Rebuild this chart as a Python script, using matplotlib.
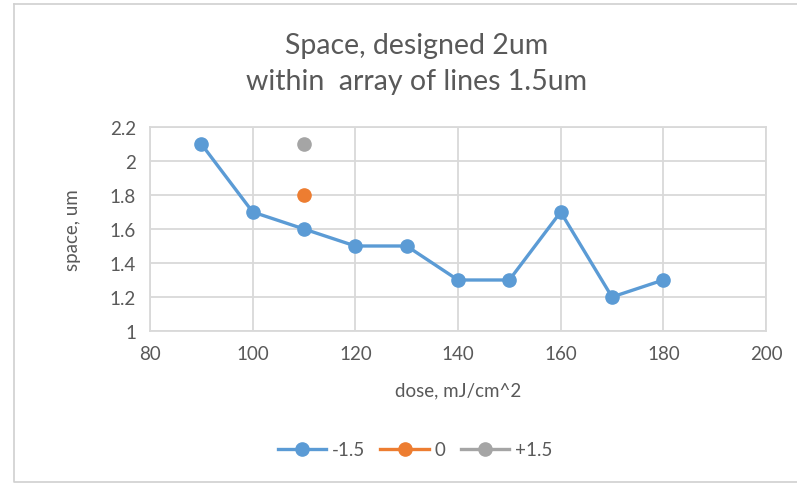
import matplotlib.pyplot as plt
from matplotlib.lines import Line2D

# dose (mJ/cm^2) vs measured space (um), focus offset series
dose_m15 = [90, 100, 110, 120, 130, 140, 150, 160, 170, 180]
space_m15 = [2.1, 1.7, 1.6, 1.5, 1.5, 1.3, 1.3, 1.7, 1.2, 1.3]
dose_0 = [110]
space_0 = [1.8]
dose_p15 = [110]
space_p15 = [2.1]

series_labels = ["-1.5", "0", "+1.5"]
x_ticks = [80, 100, 120, 140, 160, 180, 200]
y_ticks = [1, 1.2, 1.4, 1.6, 1.8, 2, 2.2]
y_tick_labels = ["1", "1.2", "1.4", "1.6", "1.8", "2", "2.2"]

BLUE = "#5B9BD5"
ORANGE = "#ED7D31"
GRAY = "#A5A5A5"
TEXT = "#595959"
GRID = "#D9D9D9"

plt.rcParams["font.family"] = ["Lato", "DejaVu Sans"]

fig = plt.figure(figsize=(7.97, 4.85), dpi=100)
W, H = 797, 485

# chart area border (Excel chart frame)
frame = [(14, 5), (14, 483), (797, 483)]
fig.add_artist(Line2D([p[0] / W for p in frame], [1 - p[1] / H for p in frame],
                      color="#D0D0D0", lw=1.2, transform=fig.transFigure))
fig.add_artist(Line2D([14 / W, 1], [1 - 5 / H, 1 - 5 / H],
                      color="#D0D0D0", lw=1.2, transform=fig.transFigure))

ax = fig.add_axes([150 / W, 1 - 332 / H, (766 - 150) / W, (332 - 128) / H])

ax.plot(dose_m15, space_m15, color=BLUE, lw=2.4, marker="o", ms=9.5,
        label=series_labels[0], zorder=3)
ax.plot(dose_0, space_0, color=ORANGE, lw=2.4, marker="o", ms=9.5,
        label=series_labels[1], zorder=3)
ax.plot(dose_p15, space_p15, color=GRAY, lw=2.4, marker="o", ms=9.5,
        label=series_labels[2], zorder=3)

ax.set_xlim(80, 200)
ax.set_ylim(1, 2.2)
ax.set_xticks(x_ticks)
ax.set_yticks(y_ticks)
ax.set_yticklabels(y_tick_labels)
ax.grid(True, color=GRID, lw=1.3)
ax.set_axisbelow(True)
for s in ax.spines.values():
    s.set_color(GRID)
    s.set_linewidth(1.3)
ax.tick_params(length=0, labelsize=13.5, colors=TEXT, pad=10)

ax.set_xlabel("dose, mJ/cm^2", fontsize=13.5, color=TEXT, labelpad=14)
ax.set_ylabel("space, um", fontsize=13.5, color=TEXT, labelpad=21)

fig.text(417 / W, 1 - 64 / H, "Space, designed 2um\nwithin  array of lines 1.5um",
         ha="center", va="center", fontsize=20.5, color=TEXT, linespacing=1.45)

fig.legend(loc="center", bbox_to_anchor=(415 / W, 1 - 451 / H), ncol=3,
           frameon=False, fontsize=13.5, labelcolor=TEXT, handlelength=2.6,
           columnspacing=0.8, handletextpad=0.3)

fig.savefig("out.png", dpi=100)
